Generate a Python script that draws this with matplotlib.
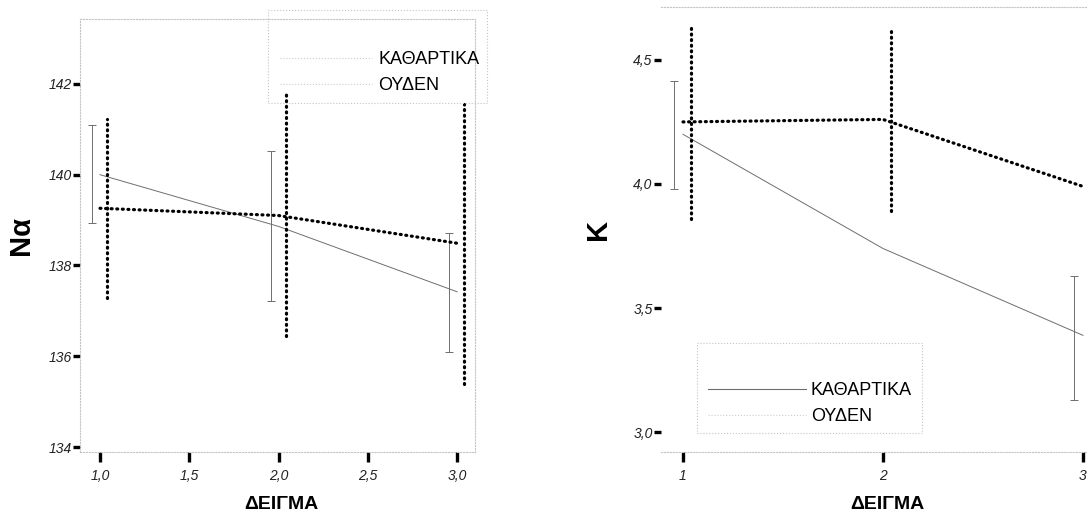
import numpy as np
import matplotlib.pyplot as plt
from matplotlib.lines import Line2D
from matplotlib.patches import Rectangle
from matplotlib.ticker import FuncFormatter

plt.rcParams['font.family'] = ['Liberation Sans', 'DejaVu Sans']

# group labels
groups = ['ΚΑΘΑΡΤΙΚΑ', 'ΟΥΔΕΝ']
samples = [1, 2, 3]

# Na: means and error bar ends per sample
na_kath_mean = [140.0, 138.86, 137.42]
na_kath_lo = [138.93, 137.22, 136.09]
na_kath_hi = [141.09, 140.52, 138.71]
na_ouden_mean = [139.26, 139.10, 138.49]
na_ouden_lo = [137.29, 136.44, 135.39]
na_ouden_hi = [141.22, 141.77, 141.55]

# K: means and error bar ends per sample
k_kath_mean = [4.20, 3.74, 3.39]
k_kath_lo = [3.98, np.nan, 3.13]
k_kath_hi = [4.415, np.nan, 3.63]
k_ouden_mean = [4.25, 4.26, 3.99]
k_ouden_lo = [3.86, 3.89, 3.62]
k_ouden_hi = [4.63, 4.62, 4.36]

na_yticks = [134, 136, 138, 140, 142]
na_xticks = [1.0, 1.5, 2.0, 2.5, 3.0]
k_yticks = [3.0, 3.5, 4.0, 4.5]
k_xticks = [1, 2, 3]

DOTS = (0, (0.3, 1.45))
GREY = '#6e6e6e'
FRAME = '#c4c4c4'

fig = plt.figure(figsize=(10.87, 5.19), dpi=100)
ax1 = fig.add_axes([80 / 1087, 67 / 519, 395 / 1087, 433 / 519])
ax2 = fig.add_axes([661 / 1087, 67 / 519, 444 / 1087, 445 / 519])


def draw(ax, kmean, klo, khi, omean, olo, ohi):
    x = np.array(samples, dtype=float)
    kmean, klo, khi = map(np.array, (kmean, klo, khi))
    ax.plot(x, kmean, color=GREY, lw=0.7, clip_on=False)
    ax.errorbar(x - 0.045, kmean, yerr=[kmean - klo, khi - kmean], fmt='none',
                ecolor=GREY, elinewidth=0.7, capsize=3, capthick=0.7, clip_on=False)
    ax.plot(x, omean, color='black', lw=2.3, ls=DOTS, dash_capstyle='round', clip_on=False)
    vl = ax.vlines(x + 0.04, olo, ohi, color='black', lw=2.3, linestyles=[DOTS], clip_on=False)
    vl.set_capstyle('round')


def style(ax, xticks, yticks, xfmt, yfmt):
    for s in ax.spines.values():
        s.set_linestyle(':')
        s.set_color(FRAME)
        s.set_linewidth(0.8)
    ax.set_xticks(xticks)
    ax.set_yticks(yticks)
    ax.xaxis.set_major_formatter(FuncFormatter(lambda v, p: (xfmt % v).replace('.', ',')))
    ax.yaxis.set_major_formatter(FuncFormatter(lambda v, p: (yfmt % v).replace('.', ',')))
    ax.tick_params(axis='y', direction='out', length=5, width=2.4, pad=1, labelsize=10)
    ax.tick_params(axis='x', direction='out', length=7, width=2.4, pad=5, labelsize=10)
    for lbl in ax.get_xticklabels() + ax.get_yticklabels():
        lbl.set_fontstyle('italic')
        lbl.set_color('#222222')
    ax.set_xlabel('ΔΕΙΓΜΑ', fontsize=14, fontweight='bold')


draw(ax1, na_kath_mean, na_kath_lo, na_kath_hi, na_ouden_mean, na_ouden_lo, na_ouden_hi)
ax1.set_xlim(0.888, 3.10)
ax1.set_ylim(133.89, 143.43)
style(ax1, na_xticks, na_yticks, '%.1f', '%d')
ax1.set_ylabel('Να', fontsize=21, fontweight='bold')
ax1.yaxis.set_label_coords(-0.114, 0.5)
ax1.xaxis.set_label_coords(0.51, -0.102)

draw(ax2, k_kath_mean, k_kath_lo, k_kath_hi, k_ouden_mean, k_ouden_lo, k_ouden_hi)
ax2.set_xlim(0.89, 3.11)
ax2.set_ylim(2.92, 4.713)
style(ax2, k_xticks, k_yticks, '%d', '%.1f')
ax2.spines['left'].set_visible(False)
ax2.set_ylabel('Κ', fontsize=21, fontweight='bold')
ax2.yaxis.set_label_coords(-0.110, 0.5)
ax2.xaxis.set_label_coords(0.509, -0.099)

# legends
faint = dict(color='#cccccc', lw=0.8, ls=':')
h1 = [Line2D([], [], **faint), Line2D([], [], **faint)]
fig.legend(h1, groups, loc='center left', bbox_to_anchor=(280 / 1087, 1 - 72.5 / 519),
           frameon=False, fontsize=13, handlelength=5.1, handletextpad=0.33,
           borderpad=0, borderaxespad=0, labelspacing=0.5)
fig.patches.append(Rectangle((268 / 1087, 1 - 103 / 519), 219 / 1087, 93 / 519,
                             transform=fig.transFigure, fill=False, ls=':',
                             ec=FRAME, lw=0.8))

h2 = [Line2D([], [], color=GREY, lw=0.8), Line2D([], [], **faint)]
fig.legend(h2, groups, loc='center left', bbox_to_anchor=(708 / 1087, 1 - 403.5 / 519),
           frameon=False, fontsize=13, handlelength=5.4, handletextpad=0.3,
           borderpad=0, borderaxespad=0, labelspacing=0.5)
fig.patches.append(Rectangle((697 / 1087, 1 - 433 / 519), 225 / 1087, 90 / 519,
                             transform=fig.transFigure, fill=False, ls=':',
                             ec=FRAME, lw=0.8))

fig.savefig('out.png', dpi=100)
